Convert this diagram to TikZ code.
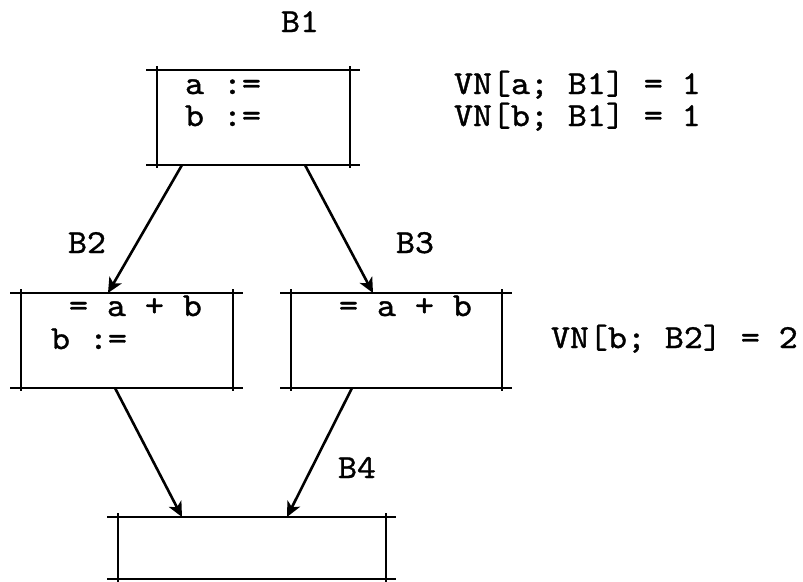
\documentclass[tikz,border=0pt]{standalone}
\usepackage{fontspec}
\usepackage{graphicx}
\usetikzlibrary{arrows.meta}
\newfontfamily\twfont{lmmono10-regular}[Extension=.otf, FakeBold=1.0]
\newcommand\cfgbox[1]{%
  \draw[rule] ([xshift=-10pt]#1.north west) -- ([xshift=9pt]#1.north east);
  \draw[rule] ([xshift=-10pt]#1.south west) -- ([xshift=9pt]#1.south east);
  \draw[rule] ([yshift=3pt]#1.north west) -- ([yshift=-2pt]#1.south west);
  \draw[rule] ([yshift=3pt]#1.north east) -- ([yshift=-2pt]#1.south east);
}
\newcommand\tw[1]{\scalebox{1.13}[1.05]{#1}}
\begin{document}
\begin{tikzpicture}[x=1pt,y=-1pt,
  rule/.style={line width=2.6pt, line cap=rect},
  flow/.style={line width=2.6pt, -{Stealth[length=15pt,width=14pt,inset=4pt]}},
  blk/.style={draw=none, inner sep=0pt, outer sep=0pt, rectangle},
  txt/.style={inner sep=0pt, outer sep=0pt, anchor=base west, font=\fontsize{32}{32}\selectfont\twfont},
  lbl/.style={inner sep=0pt, outer sep=0pt, anchor=base, font=\fontsize{32}{32}\selectfont\twfont}]
\useasboundingbox[fill=white] (0,0) rectangle (803,581);
% blocks
\node[blk, minimum width=193pt, minimum height=95pt] (b1) at (253.5,117.5) {};
\node[blk, minimum width=212pt, minimum height=95pt] (b2) at (127,340.5) {};
\node[blk, minimum width=211pt, minimum height=95pt] (b3) at (396.5,340.5) {};
\node[blk, minimum width=268pt, minimum height=62pt] (b4) at (252,548) {};
\cfgbox{b1}
\cfgbox{b2}
\cfgbox{b3}
\cfgbox{b4}
% labels
\node[lbl] (l1) at (300,32) {\tw{B1}};
\node[lbl] (l2) at (87,253) {\tw{B2}};
\node[lbl] (l3) at (415,253) {\tw{B3}};
\node[lbl] (l4) at (357,478) {\tw{B4}};
% block contents
\node[txt] (t1a) at (185,94) {\tw{a :=}};
\node[txt] (t1b) at (185,126) {\tw{b :=}};
\node[txt] (t2a) at (69,316) {\tw{= a + b}};
\node[txt] (t2b) at (51,349) {\tw{b :=}};
\node[txt] (t3a) at (339,316) {\tw{= a + b}};
% value numbers
\node[txt] (v1) at (454,94) {\tw{VN[a; B1] = 1}};
\node[txt] (v2) at (454,126) {\tw{VN[b; B1] = 1}};
\node[txt] (v3) at (551,348) {\tw{VN[b; B2] = 2}};
% arrow end points on the block borders
\coordinate (s12) at ([xshift=25pt]b1.south west);
\coordinate (e12) at ([xshift=87pt]b2.north west);
\coordinate (s13) at ([xshift=148pt]b1.south west);
\coordinate (e13) at ([xshift=82pt]b3.north west);
\coordinate (s24) at ([xshift=94pt]b2.south west);
\coordinate (e24) at ([xshift=64pt]b4.north west);
\coordinate (s34) at ([xshift=61pt]b3.south west);
\coordinate (e34) at ([xshift=169pt]b4.north west);
\draw[flow] (s12) -- (e12);
\draw[flow] (s13) -- (e13);
\draw[flow] (s24) -- (e24);
\draw[flow] (s34) -- (e34);
\end{tikzpicture}
\end{document}
